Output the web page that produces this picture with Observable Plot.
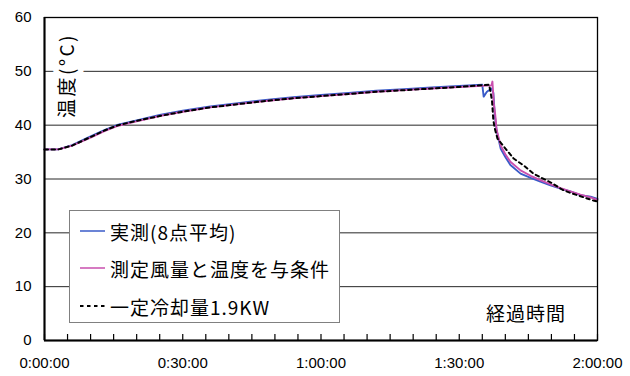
<!DOCTYPE html>
<html><head><meta charset="utf-8">
<script src="https://cdn.jsdelivr.net/npm/d3@7"></script>
<script src="https://cdn.jsdelivr.net/npm/@observablehq/plot@0.6"></script>
<style>
body{margin:0;background:#fff;}
</style></head><body><div id="wrap"></div>
<script>
// time in minutes, temperature in °C
const measT = [0,3,6,10,13,16,20,25,30,36,42,48,54,60,66,72,78,84,90,95,95.3,96,97,97.4,97.7,98.1,98.5,99,100,101.1,103.3,105.5,107.6,109.8,112,114.1,116.3,118.5,120];
const measV = [35.5,35.5,36.3,37.9,39.1,40.1,40.9,41.9,42.7,43.5,44.1,44.7,45.2,45.6,46.0,46.4,46.7,47.0,47.3,47.5,45.3,46.2,46.8,46.0,42.0,39.0,37.5,35.6,34.1,32.6,31.0,30.2,29.5,28.8,28.2,27.7,27.0,26.7,26.3];
const calcT = [0,3,6,10,13,16,20,25,30,36,42,48,54,60,66,72,78,84,90,95,97,97.2,97.5,97.8,98.1,98.6,99,100,101.1,103.3,105.5,107.6,109.8,112,114.1,116.3,118.5,120];
const calcV = [35.5,35.5,36.2,37.7,38.9,39.9,40.7,41.7,42.5,43.3,43.9,44.5,45.0,45.4,45.8,46.2,46.5,46.8,47.1,47.3,47.4,48.1,44.0,42.0,39.2,37.5,36.2,34.6,33.2,31.6,30.6,29.8,29.0,28.3,27.7,27.1,26.6,26.1];
const constT = [0,3,6,10,13,16,20,25,30,36,42,48,54,60,66,72,78,84,90,96.5,97.1,97.4,97.7,98.3,99.7,101.8,104,106.1,108.1,110.2,112.4,114.5,117,119.1,120];
const constV = [35.5,35.5,36.2,37.8,39.0,40.0,40.8,41.7,42.5,43.3,43.9,44.5,45.0,45.4,45.8,46.2,46.5,46.8,47.1,47.5,44.6,40.9,39.4,37.5,36.0,33.8,32.5,31.0,30.1,29.2,28.0,27.3,26.6,26.0,25.8];
const yTicks = [0,10,20,30,40,50,60];
const gridVals = [10,20,30,40,50];
const xLabelTicks = [0,30,60,90,120];
const xMinorTicks = d3.range(0,121,5);
const legendLabels = ["実測(8点平均)","測定風量と温度を与条件","一定冷却量1.9KW"];
const yTitle = "温度(°C)";
const xTitle = "経過時間";
const colors = ["#3a5bc8","#c94fae","#000000"];

const fmt = m => { const h = Math.floor(m/60), mm = m%60; return `${h}:${String(mm).padStart(2,"0")}:00`; };
const mk = (T,V) => T.map((t,i)=>({t, v:V[i]}));
const jpFont = "'Noto Sans CJK JP','Noto Sans',sans-serif";

const W = 630, H = 376, mT = 17, mB = 36;
const innerH = H - mT - mB;
const tickLen = 6 * 60 / innerH; // 6px expressed in y units
const chart = Plot.plot({
  width:W, height:H,
  marginLeft:44, marginRight:33, marginTop:mT, marginBottom:mB,
  style:{fontFamily:"'Liberation Sans',Arial,sans-serif", fontSize:"15px", color:"#000", background:"#fff"},
  x:{domain:[0,120]},
  y:{domain:[0,60]},
  marks:[
    Plot.gridY(gridVals,{stroke:"#000", strokeOpacity:0.85, strokeWidth:1}),
    Plot.axisY(yTicks,{tickSize:0, tickPadding:13, fontSize:15, label:null}),
    Plot.ruleX(xMinorTicks,{x:d=>d, y1:0, y2:tickLen, stroke:"#000", strokeWidth:1.2}),
    Plot.axisX(xLabelTicks,{tickSize:0, tickPadding:17, tickFormat:fmt, fontSize:15, label:null}),
    Plot.line(mk(measT,measV),{x:"t", y:"v", stroke:colors[0], strokeWidth:1.9}),
    Plot.line(mk(calcT,calcV),{x:"t", y:"v", stroke:colors[1], strokeWidth:1.9}),
    Plot.line(mk(constT,constV),{x:"t", y:"v", stroke:colors[2], strokeWidth:2, strokeDasharray:"3.5,3.5"}),
    Plot.frame({stroke:"#000", strokeWidth:1.3}),
    Plot.ruleX([0],{stroke:"#000", strokeWidth:2}),
    Plot.ruleY([0],{stroke:"#000", strokeWidth:2}),
    // y-axis title on a white patch
    Plot.text([yTitle],{frameAnchor:"top-left", dx:23, dy:58, rotate:-90, text:d=>d,
      fontFamily:jpFont, fontSize:19, fill:"#000", stroke:"#fff", strokeWidth:11, paintOrder:"stroke", textAnchor:"middle", lineAnchor:"middle"})
  ]
});
document.getElementById("wrap").appendChild(chart);

const svg = d3.select(chart);
svg.selectAll("text").filter(function(){ return this.textContent === yTitle; }).attr("letter-spacing", 2.5);
// x-axis title
svg.append("text").text(xTitle)
  .attr("x",486).attr("y",312).attr("dominant-baseline","central").attr("text-anchor","start")
  .attr("font-family",jpFont).attr("font-size",19).attr("letter-spacing",1).attr("fill","#000");
// legend
const lg = svg.append("g").attr("text-anchor","start");
lg.append("rect").attr("x",69.5).attr("y",210.5).attr("width",270).attr("height",112)
  .attr("fill","#fff").attr("stroke","#808080").attr("stroke-width",1);
const rowY = [231,268,306];
legendLabels.forEach((lab,i)=>{
  lg.append("line").attr("x1",80).attr("x2",105).attr("y1",rowY[i]).attr("y2",rowY[i])
    .attr("stroke",colors[i]).attr("stroke-width", i===2?2:1.5)
    .attr("stroke-dasharray", i===2?"3.5,3.5":null);
  lg.append("text").text(lab).attr("x",110).attr("y",rowY[i]).attr("dominant-baseline","central")
    .attr("text-anchor","start")
    .attr("font-family",jpFont).attr("font-size",19).attr("letter-spacing",1).attr("fill","#000");
});
</script></body></html>
